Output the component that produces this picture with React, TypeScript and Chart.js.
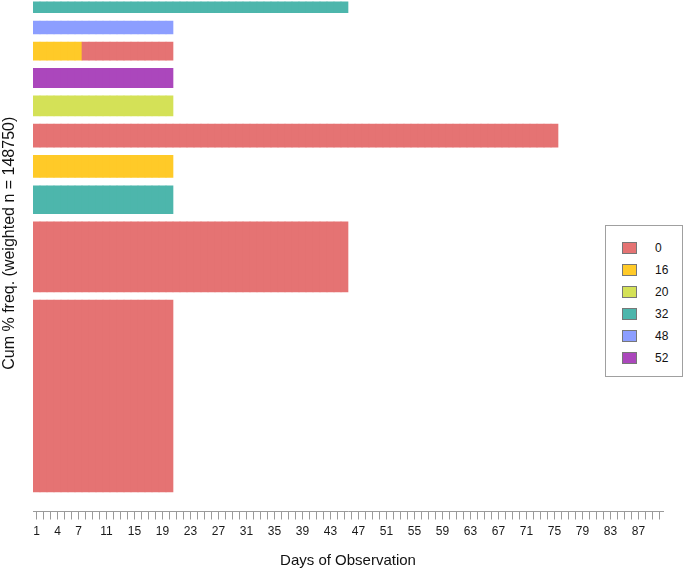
import React, { useEffect, useRef } from 'react';
import { Chart, registerables } from 'chart.js';

Chart.register(...registerables);

// ---- data ----
const nDays = 90;
const dayLabels: string[] = Array.from({ length: nDays }, (_, i) => String(i + 1));
const shownTickLabels = ['1', '4', '7', '11', '15', '19', '23', '27', '31', '35', '39', '43', '47', '51', '55', '59', '63', '67', '71', '75', '79', '83', '87'];

const states = ['0', '16', '20', '32', '48', '52'];
const stateColors = ['#E57373', '#FFCA28', '#D4E157', '#4DB6AC', '#8C9EFF', '#AB47BC'];

// sequences from bottom to top, as spells [state, duration in days]
const seqSpells: [string, number][][] = [
  [['0', 20]],
  [['0', 45]],
  [['32', 20]],
  [['16', 20]],
  [['0', 75]],
  [['20', 20]],
  [['52', 20]],
  [['16', 7], ['0', 13]],
  [['48', 20]],
  [['32', 45]],
];
// weighted % frequency of each sequence (bottom to top)
const seqWeights = [46.1, 16.8, 6.7, 5.3, 5.5, 4.8, 4.6, 4.3, 3.1, 2.6];
const barSpace = 2; // space between sequence bars (in % units)

const yTitle = 'Cum % freq. (weighted n = 148750)';
const xTitle = 'Days of Observation';

const FONT = "'Liberation Sans', Arial, sans-serif";

function buildDatasets() {
  let cum = 0;
  return seqSpells.map((spells, r) => {
    const lo = cum + barSpace;
    const hi = lo + seqWeights[r];
    cum = hi;
    const data: ([number, number] | null)[] = [];
    const colors: string[] = [];
    let day = 0;
    for (const [st, dur] of spells) {
      for (let k = 0; k < dur; k++) {
        data[day] = [lo, hi];
        colors[day] = stateColors[states.indexOf(st)];
        day++;
      }
    }
    for (; day < nDays; day++) {
      data[day] = null;
      colors[day] = 'rgba(0,0,0,0)';
    }
    return {
      label: 'sequence ' + (r + 1),
      data,
      backgroundColor: colors,
      borderWidth: 0,
      grouped: false,
      categoryPercentage: 1,
      barPercentage: 1,
    };
  });
}

export default function App() {
  const ref = useRef<HTMLCanvasElement>(null);

  useEffect(() => {
    if (!ref.current) return;
    const chart = new Chart(ref.current, {
      type: 'bar',
      data: { labels: dayLabels, datasets: buildDatasets() as any },
      options: {
        animation: false,
        responsive: false,
        layout: { padding: { top: 0, left: 0, right: 22, bottom: 0 } },
        plugins: { legend: { display: false }, tooltip: { enabled: false } },
        scales: {
          x: {
            type: 'category',
            offset: true,
            grid: { display: true, drawOnChartArea: false, offset: false, tickLength: 8, color: '#9a9a9a', lineWidth: 1 },
            border: { display: true, color: '#9a9a9a', width: 1 },
            ticks: {
              autoSkip: false,
              maxRotation: 0,
              minRotation: 0,
              padding: 5,
              color: '#1a1a1a',
              font: { family: FONT, size: 12 },
              callback: function (this: any, v: any) {
                const l = this.getLabelForValue(v);
                return shownTickLabels.includes(l) ? l : '';
              },
            },
            title: { display: true, text: xTitle, color: '#111', font: { family: FONT, size: 15 }, padding: { top: 0, bottom: 0 } },
            afterFit: (s: any) => { s.height = 58.5; },
          },
          y: {
            type: 'linear',
            min: -2.686,
            max: 126.25,
            grid: { display: false },
            border: { display: false },
            ticks: { display: false },
            title: { display: true, text: yTitle, color: '#111', font: { family: FONT, size: 16 }, padding: { top: 0, bottom: 0 } },
            afterFit: (s: any) => { s.width = 33; },
          },
        },
      },
    });
    return () => chart.destroy();
  }, []);

  return (
    <div style={{ position: 'absolute', left: 0, top: 0, width: 685, height: 570, background: '#fff', overflow: 'hidden' }}>
      <canvas ref={ref} width={685} height={595} style={{ display: 'block', position: 'absolute', left: 0, top: -25 }} />
      <div
        style={{
          position: 'absolute', left: 605, top: 225, width: 76, height: 150,
          border: '1px solid #a0a0a0', background: '#fff',
          boxSizing: 'content-box', fontFamily: FONT, fontSize: 12, color: '#111',
        }}
      >
        {states.map((s, i) => (
          <div key={s} style={{ position: 'absolute', left: 0, top: 11 + i * 22, height: 22, display: 'flex', alignItems: 'center' }}>
            <span style={{ display: 'inline-block', marginLeft: 16, width: 13, height: 10, background: stateColors[i], border: '1px solid #777' }} />
            <span style={{ marginLeft: 18, lineHeight: '22px' }}>{s}</span>
          </div>
        ))}
      </div>
    </div>
  );
}
